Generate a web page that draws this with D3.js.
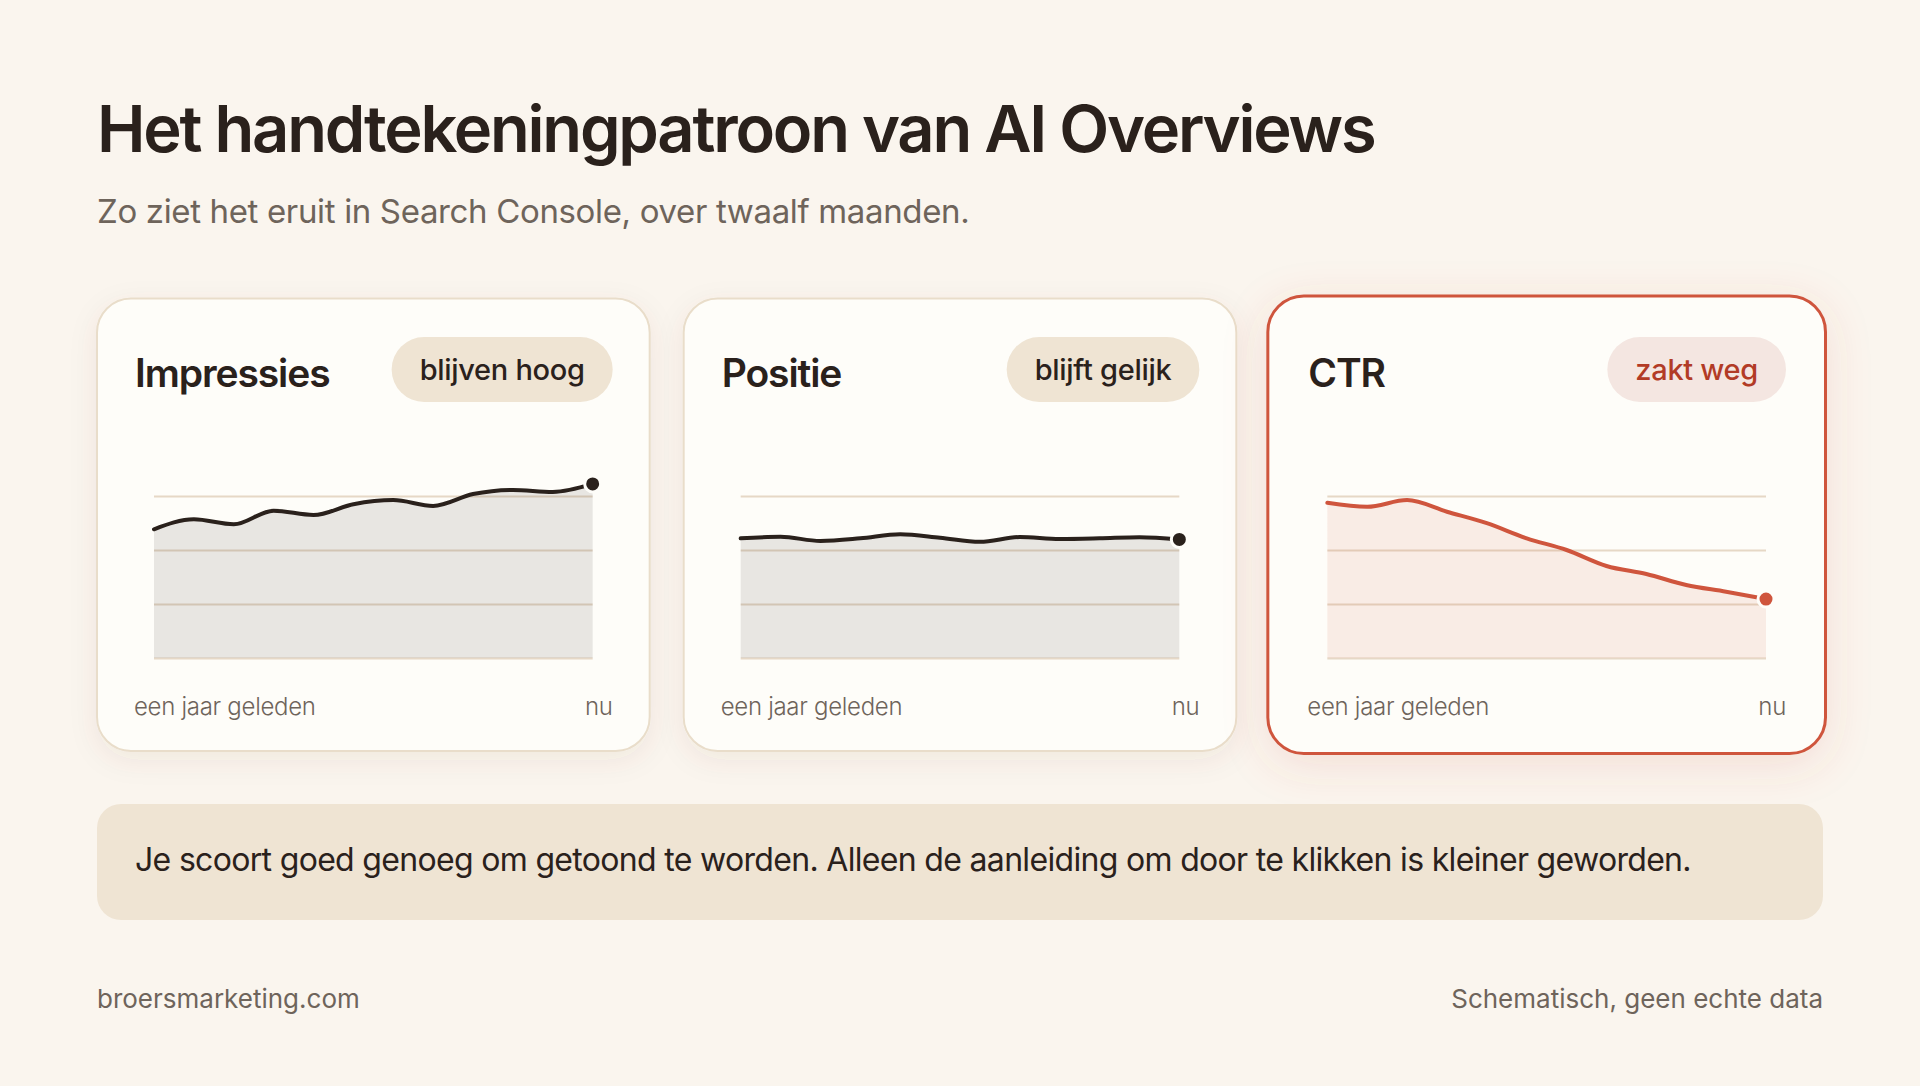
<!DOCTYPE html>
<html>
<head>
<meta charset="utf-8">
<script src="https://cdn.jsdelivr.net/npm/d3@7"></script>
<style>
  html, body { margin: 0; padding: 0; background: #faf5ee; }
  svg { display: block; font-family: Inter, "Noto Sans", sans-serif; }
</style>
</head>
<body>
<svg id="chart" width="1920" height="1086"></svg>
<script>
// ---- data ----
const months = [1, 2, 3, 4, 5, 6, 7, 8, 9, 10, 11, 12];
const impressies = [59.6, 64.2, 61.9, 68.2, 66.2, 71.2, 73.1, 70.4, 75.9, 77.8, 76.9, 80.6];
const positie    = [55.4, 56.1, 54.2, 55.4, 57.3, 55.7, 53.8, 56.0, 55.1, 55.4, 55.9, 54.9];
const ctr        = [71.9, 70.0, 73.1, 67.7, 62.4, 55.4, 50.0, 42.6, 38.9, 33.8, 30.7, 27.3];
const cardTitles = ["Impressies", "Positie", "CTR"];
const badges = ["blijven hoog", "blijft gelijk", "zakt weg"];
const axisLabels = ["een jaar geleden", "nu"];
const gridTicks = [0, 25, 50, 75];
const titleText = "Het handtekeningpatroon van AI Overviews";
const subtitleText = "Zo ziet het eruit in Search Console, over twaalf maanden.";
const noteText = "Je scoort goed genoeg om getoond te worden. Alleen de aanleiding om door te klikken is kleiner geworden.";
const footerLeft = "broersmarketing.com";
const footerRight = "Schematisch, geen echte data";

const series = [impressies, positie, ctr];

// ---- layout ----
const W = 1920, H = 1086;
const marginX = 97;
const gap = 34;
const cardW = (W - 2 * marginX - 2 * gap) / 3;
const cardY = 298.5, cardH = 452.5;
const ink = "#2a211c", muted = "#6e645b", accent = "#cf553d";

const svg = d3.select("#chart");
svg.append("rect").attr("width", W).attr("height", H).attr("fill", "#faf5ee");

const defs = svg.append("defs");
const f1 = defs.append("filter").attr("id", "shadow").attr("x", "-20%").attr("y", "-20%").attr("width", "140%").attr("height", "150%");
f1.append("feDropShadow").attr("dx", 0).attr("dy", 8).attr("stdDeviation", 14)
  .attr("flood-color", "#6b4f2f").attr("flood-opacity", 0.07);
const f2 = defs.append("filter").attr("id", "shadowRed").attr("x", "-20%").attr("y", "-20%").attr("width", "140%").attr("height", "150%");
f2.append("feDropShadow").attr("dx", 0).attr("dy", 10).attr("stdDeviation", 22)
  .attr("flood-color", accent).attr("flood-opacity", 0.14);

// title
svg.append("text").attr("x", marginX).attr("y", 152)
  .attr("font-size", 65).attr("font-weight", 600).attr("letter-spacing", "-2.2")
  .attr("fill", ink).text(titleText);
svg.append("text").attr("x", marginX).attr("y", 223)
  .attr("font-size", 33).attr("font-weight", 400).attr("letter-spacing", "-0.35")
  .attr("fill", muted).text(subtitleText);

// cards
series.forEach((vals, i) => {
  const cx = marginX + i * (cardW + gap);
  const hi = i === 2;
  const g = svg.append("g");

  if (hi) {
    g.append("rect").attr("x", cx - 2.5).attr("y", cardY - 2.5)
      .attr("width", cardW + 5).attr("height", cardH + 5).attr("rx", 36)
      .attr("fill", "#fefdf9").attr("stroke", accent).attr("stroke-width", 3)
      .attr("filter", "url(#shadowRed)");
  } else {
    g.append("rect").attr("x", cx).attr("y", cardY)
      .attr("width", cardW).attr("height", cardH).attr("rx", 34)
      .attr("fill", "#fefdf9").attr("stroke", "#e9ddca").attr("stroke-width", 2)
      .attr("filter", "url(#shadow)");
  }

  // card title
  g.append("text").attr("x", cx + 38).attr("y", 387)
    .attr("font-size", 39).attr("font-weight", 600).attr("letter-spacing", "-1.1")
    .attr("fill", ink).text(cardTitles[i]);

  // badge
  const bt = g.append("text").attr("y", 380)
    .attr("font-size", 29).attr("font-weight", 500).attr("letter-spacing", "-0.3")
    .attr("fill", hi ? "#b23b26" : ink).attr("text-anchor", "middle").text(badges[i]);
  const tw = bt.node().getComputedTextLength();
  const pw = tw + 56;
  const pRight = cx + cardW - 37;
  g.insert("rect", "text:last-of-type").attr("x", pRight - pw).attr("y", 337)
    .attr("width", pw).attr("height", 65).attr("rx", 32.5)
    .attr("fill", hi ? "#f4e6e1" : "#efe4d3");
  bt.attr("x", pRight - pw / 2).raise();

  // chart
  const x = d3.scaleLinear().domain(d3.extent(months)).range([cx + 57, cx + cardW - 57]);
  const y = d3.scaleLinear().domain([0, 100]).range([658, 442]);
  const color = hi ? accent : ink;

  const grid = g.append("g").attr("transform", `translate(${x.range()[0]},0)`)
    .call(d3.axisLeft(y).tickValues(gridTicks).tickSize(-(x.range()[1] - x.range()[0])).tickFormat(""));
  grid.select(".domain").remove();
  grid.selectAll(".tick line").attr("stroke", "#e6d8c6").attr("stroke-width", 2);

  const data = months.map((m, k) => ({ m, v: vals[k] }));
  g.append("path").datum(data)
    .attr("d", d3.area().x(d => x(d.m)).y0(y(0)).y1(d => y(d.v)).curve(d3.curveMonotoneX))
    .attr("fill", color).attr("fill-opacity", 0.1);
  g.append("path").datum(data)
    .attr("d", d3.line().x(d => x(d.m)).y(d => y(d.v)).curve(d3.curveMonotoneX))
    .attr("fill", "none").attr("stroke", color).attr("stroke-width", 4)
    .attr("stroke-linecap", "round");
  const last = data[data.length - 1];
  g.append("circle").attr("cx", x(last.m)).attr("cy", y(last.v)).attr("r", 8)
    .attr("fill", color).attr("stroke", "#fefdf9").attr("stroke-width", 3);

  // axis labels
  g.append("text").attr("x", cx + 37).attr("y", 715)
    .attr("font-size", 24).attr("font-weight", 300).attr("letter-spacing", "-0.3")
    .attr("fill", muted).text(axisLabels[0]);
  g.append("text").attr("x", cx + cardW - 37).attr("y", 715).attr("text-anchor", "end")
    .attr("font-size", 24).attr("font-weight", 300).attr("letter-spacing", "-0.3")
    .attr("fill", muted).text(axisLabels[1]);
});

// note banner
svg.append("rect").attr("x", marginX).attr("y", 804).attr("width", W - 2 * marginX).attr("height", 116)
  .attr("rx", 24).attr("fill", "#efe4d3");
svg.append("text").attr("x", 135).attr("y", 871)
  .attr("font-size", 32).attr("font-weight", 400).attr("letter-spacing", "-0.68")
  .attr("fill", ink).text(noteText);

// footer
svg.append("text").attr("x", marginX).attr("y", 1008)
  .attr("font-size", 26).attr("font-weight", 400).attr("letter-spacing", "0")
  .attr("fill", muted).text(footerLeft);
svg.append("text").attr("x", W - marginX).attr("y", 1008).attr("text-anchor", "end")
  .attr("font-size", 26).attr("font-weight", 400).attr("letter-spacing", "0")
  .attr("fill", muted).text(footerRight);
</script>
</body>
</html>
